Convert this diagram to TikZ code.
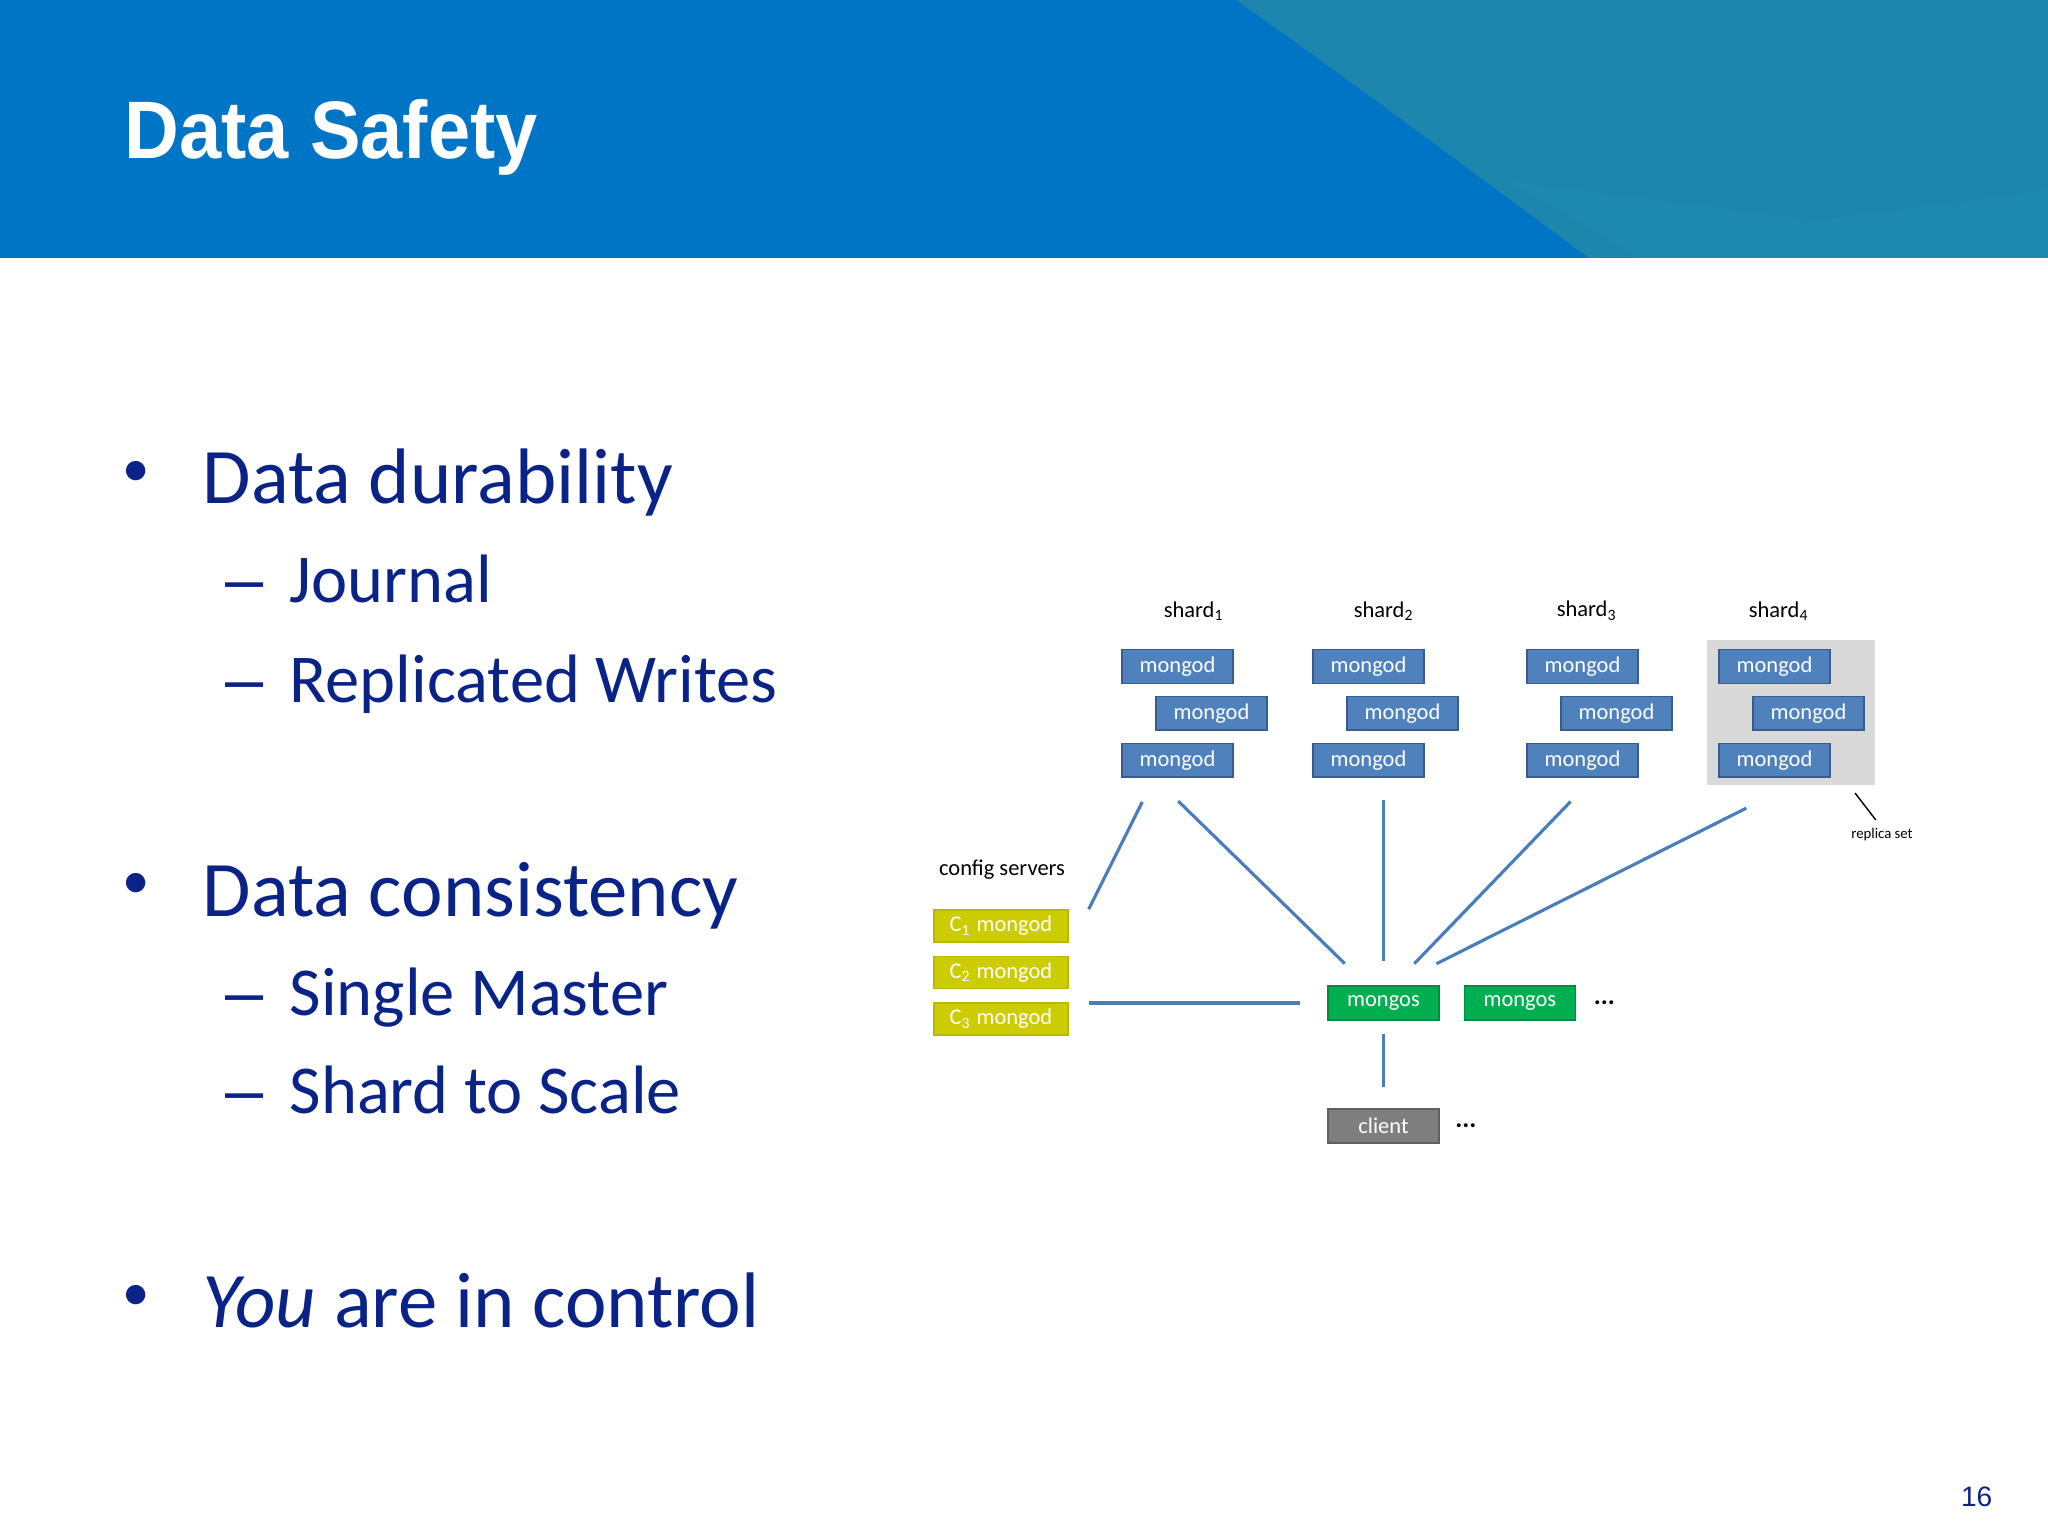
\documentclass[tikz,border=0pt]{standalone}
\usepackage{fontspec}
\setmainfont{Carlito}
\newfontfamily\titlefont[FakeStretch=0.93]{Liberation Sans}
\newfontfamily\arialfont{Liberation Sans}
\usetikzlibrary{positioning}
\definecolor{hdrblue}{RGB}{0,117,198}
\definecolor{hdrteal}{RGB}{28,134,172}
\definecolor{hdrfacet}{RGB}{33,140,180}
\definecolor{slidenavy}{RGB}{10,35,135}
\definecolor{mdblue}{RGB}{79,129,189}
\definecolor{mdline}{RGB}{56,93,138}
\definecolor{cfgyellow}{RGB}{204,204,0}
\definecolor{cfgline}{RGB}{185,185,0}
\definecolor{msgreen}{RGB}{0,176,80}
\definecolor{msline}{RGB}{0,140,64}
\definecolor{clgrey}{RGB}{127,127,127}
\definecolor{clline}{RGB}{96,96,96}
\definecolor{rsgrey}{RGB}{217,217,217}
\definecolor{linkblue}{RGB}{74,126,187}

\begin{document}
\begin{tikzpicture}[
    lvlone/.style={anchor=base west, inner sep=0, text=slidenavy, font=\fontsize{22.4}{27}\selectfont},
    lvltwo/.style={anchor=base west, inner sep=0, text=slidenavy, font=\fontsize{19.5}{23}\selectfont},
    bulletdot/.style={anchor=center, inner sep=0, text=slidenavy, font=\fontsize{15.6}{18}\selectfont},
    subdash/.style={lvltwo, font=\arialfont\fontsize{19.5}{23}\selectfont},
    mongod/.style={rectangle, fill=mdblue, draw=mdline, text=white, minimum width=1.11cm, minimum height=0.335cm, inner sep=0, font=\fontsize{6.4}{7}\selectfont},
    cfgbox/.style={mongod, fill=cfgyellow, draw=cfgline, minimum width=1.34cm, minimum height=0.32cm},
    router/.style={mongod, fill=msgreen, draw=msline, minimum height=0.34cm},
    clientbox/.style={mongod, fill=clgrey, draw=clline, minimum height=0.34cm},
    tag/.style={inner sep=0, font=\fontsize{6.4}{7}\selectfont},
    more/.style={inner sep=0, font=\bfseries\fontsize{7.5}{8}\selectfont},
    link/.style={draw=linkblue, line width=0.9pt}
]
    % Slide and header
    \fill[white] (0,0) rectangle (20.48,-15.36);
    \useasboundingbox (0,0) rectangle (20.48,-15.36);
    \fill[hdrblue] (0,0) rectangle (20.48,-2.58);
    \fill[hdrteal] (12.36,0) .. controls (13.5,-0.8) and (14.9,-1.85) .. (15.89,-2.58) -- (20.48,-2.58) -- (20.48,0) -- cycle;
    \fill[hdrfacet, opacity=0.5] (15.1,-1.82) -- (18.2,-2.2) -- (20.48,-1.9) -- (20.48,-2.58) -- (16.4,-2.58) -- cycle;
    \node[anchor=base west, inner sep=0, text=white, font=\titlefont\bfseries\fontsize{23.2}{28}\selectfont] (title) at (1.24,-1.59) {Data Safety};

    % Bullet list
    \node[bulletdot] (b1) at (1.36,-4.74) {•};
    \node[lvlone] (dur) at (2.02,-5.04) {Data durability};
    \node[subdash] (d1) at (2.25,-6.03) {–};
    \node[lvltwo] (jrn) at (2.89,-6.03) {Journal};
    \node[subdash] (d2) at (2.25,-7.03) {–};
    \node[lvltwo] (rep) at (2.89,-7.03) {Replicated Writes};
    \node[bulletdot] (b2) at (1.36,-8.86) {•};
    \node[lvlone] (cons) at (2.02,-9.16) {Data consistency};
    \node[subdash] (d3) at (2.25,-10.15) {–};
    \node[lvltwo] (sgl) at (2.89,-10.15) {Single Master};
    \node[subdash] (d4) at (2.25,-11.14) {–};
    \node[lvltwo] (shd) at (2.89,-11.14) {Shard to Scale};
    \node[bulletdot] (b3) at (1.36,-12.98) {•};
    \node[lvlone] (ctl) at (2.02,-13.27) {\textit{You} are in control};

    % Replica set backdrop
    \node[fill=rsgrey, minimum width=1.68cm, minimum height=1.45cm, inner sep=0] (rs) at (17.91,-7.125) {};

    % Shards
    \node[tag] (l1) at (11.94,-6.11) {shard\textsubscript{1}};
    \node[tag] (l2) at (13.84,-6.11) {shard\textsubscript{2}};
    \node[tag] (l3) at (15.87,-6.11) {shard\textsubscript{3}};
    \node[tag] (l4) at (17.79,-6.11) {shard\textsubscript{4}};

    \node[mongod] (s1a) at (11.775,-6.665) {mongod};
    \node[mongod, below=0.12cm of s1a, xshift=0.34cm] (s1b) {mongod};
    \node[mongod, below=0.12cm of s1b, xshift=-0.34cm] (s1c) {mongod};
    \node[mongod] (s2a) at (13.685,-6.665) {mongod};
    \node[mongod, below=0.12cm of s2a, xshift=0.34cm] (s2b) {mongod};
    \node[mongod, below=0.12cm of s2b, xshift=-0.34cm] (s2c) {mongod};
    \node[mongod] (s3a) at (15.825,-6.665) {mongod};
    \node[mongod, below=0.12cm of s3a, xshift=0.34cm] (s3b) {mongod};
    \node[mongod, below=0.12cm of s3b, xshift=-0.34cm] (s3c) {mongod};
    \node[mongod] (s4a) at (17.745,-6.665) {mongod};
    \node[mongod, below=0.12cm of s4a, xshift=0.34cm] (s4b) {mongod};
    \node[mongod, below=0.12cm of s4b, xshift=-0.34cm] (s4c) {mongod};

    \node[tag, font=\fontsize{4.2}{5}\selectfont] (rstag) at (18.82,-8.35) {replica set};
    \coordinate (rstip) at (18.55,-7.93);

    % Config servers
    \node[tag] (cfgtag) at (10.02,-8.70) {config servers};
    \node[cfgbox] (c1) at (10.01,-9.26) {C\textsubscript{1} mongod};
    \node[cfgbox, below=0.13cm of c1] (c2) {C\textsubscript{2} mongod};
    \node[cfgbox, below=0.13cm of c2] (c3) {C\textsubscript{3} mongod};

    % Routers and client
    \node[router] (ms1) at (13.835,-10.03) {mongos};
    \node[router, right=0.24cm of ms1] (ms2) {mongos};
    \node[more, right=0.17cm of ms2] (msmore) {...};
    \node[clientbox] (cl) at (13.835,-11.26) {client};
    \node[more, right=0.15cm of cl] (clmore) {...};

    % Links
    \draw[link, shorten <=0.27cm] (s1c.217) -- ([xshift=0.2cm]c1.north east);
    \draw[link, shorten <=0.335cm, shorten >=0.31cm] (s1c.217) -- ([xshift=-0.165cm]ms1.north);
    \draw[link, shorten <=0.22cm, shorten >=0.24cm] (ms1.north |- s2c.south) -- (ms1.north);
    \draw[link, shorten <=0.33cm, shorten >=0.3cm] ([xshift=0.11cm]s3c.south) -- ([xshift=0.1cm]ms1.north);
    \draw[link, shorten <=0.5cm, shorten >=0.48cm] (rs.south) -- ([xshift=0.1cm]ms1.north);
    \draw[link, shorten <=0.27cm, shorten >=0.2cm] (ms1.west) -- (ms1.west -| c3.east);
    \draw[link, shorten <=0.13cm, shorten >=0.21cm] (ms1.south) -- (cl.north);
    \draw[shorten >=0.1cm] (rstip) -- (rstag.north);

    % Page number
    \node[anchor=base east, inner sep=0, text=slidenavy, font=\arialfont\fontsize{8}{10}\selectfont] (pgno) at (19.93,-15.06) {16};
\end{tikzpicture}
\end{document}
